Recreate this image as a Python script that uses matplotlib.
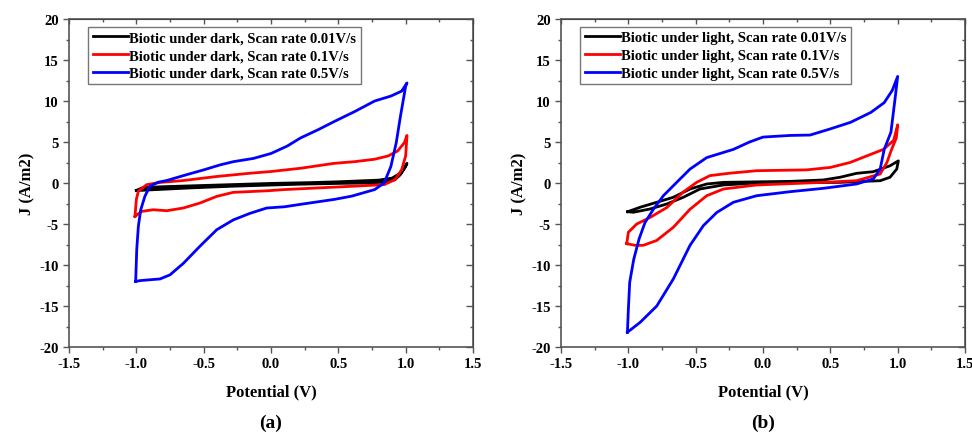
import numpy as np
import matplotlib
matplotlib.use('Agg')
from matplotlib import pyplot as plt
from matplotlib.ticker import MultipleLocator

# (a) dark: closed CV loops, potential (V) / current density (A/m2)
dark_001_v = [-1.0, -0.95, -0.8, -0.5, -0.2, 0.0, 0.3, 0.5, 0.8, 0.9, 0.97, 1.01,
              1.0, 0.96, 0.92, 0.85, 0.7, 0.5, 0.2, 0.0, -0.3, -0.6, -0.85, -0.97, -1.0]
dark_001_j = [-0.9, -0.55, -0.45, -0.3, -0.15, -0.05, 0.05, 0.15, 0.35, 0.6, 1.3, 2.4,
              2.0, 1.0, 0.4, 0.1, 0.0, -0.05, -0.15, -0.25, -0.4, -0.6, -0.8, -0.9, -0.9]
dark_01_v = [-1.01, -1.0, -0.985, -0.923, -0.824, -0.651, -0.4, -0.15, 0.0, 0.22, 0.47, 0.62,
             0.77, 0.87, 0.94, 0.99, 1.01,
             1.0, 0.97, 0.92, 0.84, 0.6, 0.35, 0.1, -0.03, -0.28, -0.403, -0.527, -0.651,
             -0.775, -0.874, -0.96, -1.01]
dark_01_j = [-4.07, -2.0, -1.0, -0.2, 0.07, 0.3, 0.8, 1.2, 1.4, 1.8, 2.4, 2.6,
             2.9, 3.3, 3.9, 4.9, 5.8,
             3.3, 1.6, 0.4, -0.2, -0.4, -0.6, -0.8, -0.95, -1.14, -1.63, -2.44, -3.05,
             -3.38, -3.26, -3.46, -4.07]
dark_05_v = [-1.005, -0.997, -0.985, -0.968, -0.936, -0.9, -0.837, -0.775, -0.63, -0.5, -0.38,
             -0.28, -0.13, 0.0, 0.12, 0.22, 0.35, 0.47, 0.62, 0.77, 0.89, 0.97, 1.01,
             1.0, 0.96, 0.93, 0.89, 0.84, 0.77, 0.6, 0.47, 0.22, 0.1, -0.032, -0.156, -0.28,
             -0.403, -0.527, -0.651, -0.75, -0.824, -0.9, -0.97, -1.005]
dark_05_j = [-12.0, -8.1, -5.3, -3.3, -1.6, -0.4, 0.1, 0.3, 1.0, 1.6, 2.2,
             2.6, 3.0, 3.6, 4.5, 5.5, 6.5, 7.5, 8.7, 10.0, 10.6, 11.2, 12.2,
             11.8, 8.0, 4.9, 2.0, 0.0, -0.8, -1.6, -2.0, -2.6, -2.9, -3.05, -3.7, -4.5,
             -5.7, -7.7, -9.8, -11.2, -11.7, -11.8, -11.9, -12.0]

# (b) light
light_001_v = [-1.005, -0.913, -0.789, -0.666, -0.542, -0.418, -0.294, 0.2, 0.448, 0.572,
               0.695, 0.819, 0.943, 1.005,
               0.993, 0.943, 0.87, 0.572, -0.047, -0.294, -0.468, -0.592, -0.715, -0.839,
               -0.963, -1.005]
light_001_j = [-3.5, -2.96, -2.35, -1.74, -0.73, -0.12, 0.08, 0.2, 0.37, 0.7,
               1.18, 1.38, 2.1, 2.7,
               1.7, 0.7, 0.28, 0.08, 0.0, -0.24, -0.73, -1.74, -2.56, -3.17,
               -3.57, -3.5]
light_01_v = [-1.012, -1.0, -0.938, -0.839, -0.715, -0.592, -0.493, -0.394, -0.245, -0.047,
              0.324, 0.5, 0.646, 0.77, 0.894, 0.97, 1.0,
              0.99, 0.955, 0.92, 0.87, 0.695, 0.448, -0.047, -0.294, -0.418, -0.542,
              -0.666, -0.789, -0.889, -0.95, -1.012]
light_01_j = [-7.4, -6.0, -5.0, -4.2, -3.0, -1.1, 0.08, 0.9, 1.2, 1.5,
              1.6, 1.9, 2.5, 3.3, 4.1, 5.2, 7.1,
              5.5, 4.1, 2.5, 1.1, 0.28, 0.08, -0.24, -0.73, -1.55, -3.2,
              -5.4, -7.0, -7.6, -7.6, -7.4]
light_05_v = [-1.007, -1.0, -0.99, -0.96, -0.92, -0.876, -0.814, -0.74, -0.641, -0.542,
              -0.418, -0.22, -0.1, 0.0, 0.2, 0.35, 0.5, 0.65, 0.8, 0.9, 0.96, 1.0,
              0.98, 0.95, 0.9, 0.87, 0.819, 0.695, 0.448, 0.2, -0.047, -0.22, -0.344,
              -0.443, -0.542, -0.666, -0.789, -0.913, -1.007]
light_05_j = [-18.2, -15.4, -12.1, -9.3, -6.8, -4.8, -3.2, -1.55, 0.08, 1.7,
              3.1, 4.1, 5.0, 5.6, 5.8, 5.85, 6.6, 7.4, 8.6, 9.8, 11.3, 13.0,
              10.2, 6.2, 4.1, 1.7, 0.5, -0.12, -0.65, -1.06, -1.55, -2.35, -3.6,
              -5.2, -7.6, -11.7, -15.0, -17.0, -18.2]

dark_labels = ['Biotic under dark, Scan rate 0.01V/s',
               'Biotic under dark, Scan rate 0.1V/s',
               'Biotic under dark, Scan rate 0.5V/s']
light_labels = ['Biotic under light, Scan rate 0.01V/s',
                'Biotic under light, Scan rate 0.1V/s',
                'Biotic under light, Scan rate 0.5V/s']
colors = ['black', '#ff0000', '#0000ff']

plt.rcParams['font.family'] = 'Liberation Serif'
plt.rcParams['font.weight'] = 'bold'
plt.rcParams['axes.unicode_minus'] = False

fig = plt.figure(figsize=(9.72, 4.35), dpi=100)
ax_a = fig.add_axes([0.071, 0.2, 0.4156, 0.754])
ax_b = fig.add_axes([0.5772, 0.2, 0.4156, 0.754])

panels = [
    (ax_a, [(dark_001_v, dark_001_j), (dark_01_v, dark_01_j), (dark_05_v, dark_05_j)], dark_labels, '(a)'),
    (ax_b, [(light_001_v, light_001_j), (light_01_v, light_01_j), (light_05_v, light_05_j)], light_labels, '(b)'),
]

for ax, curves, labels, tag in panels:
    for (v, j), c, lab in zip(curves, colors, labels):
        ax.plot(v, j, color=c, lw=2.0, label=lab, solid_joinstyle='round')
    ax.set_xlim(-1.5, 1.5)
    ax.set_ylim(-20, 20)
    ax.xaxis.set_major_locator(MultipleLocator(0.5))
    ax.xaxis.set_minor_locator(MultipleLocator(0.25))
    ax.yaxis.set_major_locator(MultipleLocator(5))
    ax.yaxis.set_minor_locator(MultipleLocator(2.5))
    ax.xaxis.set_major_formatter(plt.FuncFormatter(lambda x, p: '%.1f' % x))
    for s in ax.spines.values():
        s.set_color('#555555')
        s.set_linewidth(1.2)
    ax.tick_params(which='both', direction='out', colors='#555555', labelcolor='black',
                   labelsize=10.5, width=1.0)
    ax.tick_params(which='major', length=4)
    ax.tick_params(which='minor', length=2.5)
    # inward ticks on top and right
    ax2 = ax.secondary_xaxis('top')
    ax2.xaxis.set_major_locator(MultipleLocator(0.5))
    ax2.xaxis.set_minor_locator(MultipleLocator(0.25))
    ax2.tick_params(which='both', direction='in', colors='#555555', labeltop=False, width=1.0)
    ax2.tick_params(which='minor', length=2.5)
    ax3 = ax.secondary_yaxis('right')
    ax3.yaxis.set_major_locator(MultipleLocator(5))
    ax3.yaxis.set_minor_locator(MultipleLocator(2.5))
    ax3.tick_params(which='both', direction='in', colors='#555555', labelright=False, width=1.0)
    ax3.tick_params(which='minor', length=2.5)
    ax3.tick_params(which='major', length=5)
    ax.set_xlabel('Potential (V)', fontsize=12, fontweight='bold', labelpad=9)
    ax.set_ylabel('J (A/m2)', fontsize=12, fontweight='bold', labelpad=3)
    leg = ax.legend(loc='upper left', bbox_to_anchor=(0.048, 0.976), fontsize=10.5,
                    frameon=True, fancybox=False, handlelength=2.4, handletextpad=0.1,
                    labelspacing=0.3, borderpad=0.3, borderaxespad=0)
    leg.get_frame().set_edgecolor('#555555')
    leg.get_frame().set_linewidth(1.0)
    ax.text(0.5, -0.229, tag, transform=ax.transAxes, ha='center', va='center',
            fontsize=14, fontweight='bold')

fig.savefig('out.png', dpi=100)
